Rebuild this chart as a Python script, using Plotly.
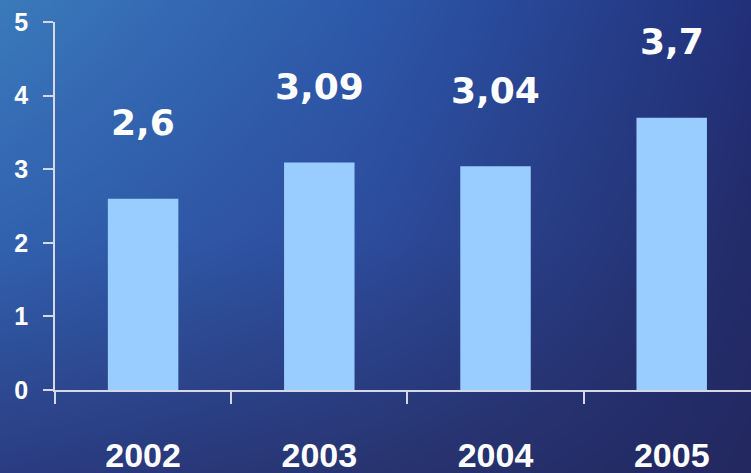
import base64
import struct
import zlib

import numpy as np
import plotly.graph_objects as go

# ---- data ----
years = ["2002", "2003", "2004", "2005"]
values = [2.6, 3.09, 3.04, 3.7]
value_labels = ["2,6", "3,09", "3,04", "3,7"]
y_ticks = [0, 1, 2, 3, 4, 5]

W, H = 751, 473
ML, MR, MT, MB = 55, 0, 22, 83


# ---- background gradient (water-like blue) as an embedded PNG ----
def hex_rgb(h):
    h = h.lstrip("#")
    return [int(h[i:i + 2], 16) for i in (0, 2, 4)]


grid = np.array([
    [hex_rgb("#3b7abb"), hex_rgb("#2d58aa"), hex_rgb("#22307a")],
    [hex_rgb("#3263b0"), hex_rgb("#2d4c9c"), hex_rgb("#232c6a")],
    [hex_rgb("#2b3c82"), hex_rgb("#283470"), hex_rgb("#232860")],
], dtype=float)
gx = np.array([0.0, 0.5, 1.0])
gy = np.array([0.0, 0.5, 1.0])
xs = np.linspace(0, 1, W)
ys = np.linspace(0, 1, H)
rows = np.empty((3, W, 3))
for r in range(3):
    for c in range(3):
        rows[r, :, c] = np.interp(xs, gx, grid[r, :, c])
img = np.empty((H, W, 3))
for c in range(3):
    for i in range(W):
        img[:, i, c] = np.interp(ys, gy, rows[:, i, c])
img = np.clip(img, 0, 255).astype(np.uint8)


def png_bytes(arr):
    h, w, _ = arr.shape
    raw = b"".join(b"\x00" + arr[r].tobytes() for r in range(h))

    def chunk(tag, data):
        c = struct.pack(">I", len(data)) + tag + data
        return c + struct.pack(">I", zlib.crc32(tag + data) & 0xFFFFFFFF)

    return (b"\x89PNG\r\n\x1a\n"
            + chunk(b"IHDR", struct.pack(">IIBBBBB", w, h, 8, 2, 0, 0, 0))
            + chunk(b"IDAT", zlib.compress(raw, 9))
            + chunk(b"IEND", b""))


bg_uri = "data:image/png;base64," + base64.b64encode(png_bytes(img)).decode()

pw = W - ML - MR
ph = H - MT - MB

fig = go.Figure()
fig.add_trace(go.Bar(
    x=years, y=values,
    marker=dict(color="#99ccff", line=dict(width=0)),
    hoverinfo="skip",
))

for i, (v, lab) in enumerate(zip(values, value_labels)):
    fig.add_annotation(
        x=i, y=v, xref="x", yref="y", text=lab, showarrow=False,
        yanchor="middle", xanchor="center", yshift=76,
        font=dict(family="DejaVu Sans", size=36, color="white", weight="bold"),
    )

fig.add_layout_image(dict(
    source=bg_uri, xref="paper", yref="paper",
    x=-ML / pw, y=1 + MT / ph, sizex=W / pw, sizey=H / ph,
    xanchor="left", yanchor="top", sizing="stretch", layer="below",
))

axis_col = "#d6d8e8"
fig.update_layout(
    width=W, height=H,
    margin=dict(l=ML, r=MR, t=MT, b=MB),
    paper_bgcolor="#2a3f85",
    plot_bgcolor="rgba(0,0,0,0)",
    showlegend=False,
    bargap=0.6,
    xaxis=dict(
        type="category", range=[-0.5, 3.45],
        tickson="boundaries", ticks="outside", ticklen=12, tickwidth=1.5,
        tickcolor=axis_col, showline=True, linecolor=axis_col, linewidth=1.5,
        showgrid=False, zeroline=False,
        tickfont=dict(family="Liberation Sans", size=34, color="white",
                      weight="bold"),
        ticklabelstandoff=34,
    ),
    yaxis=dict(
        range=[0, 5], tickvals=y_ticks, ticks="outside", ticklen=10,
        tickwidth=1.5, tickcolor=axis_col, showline=True, linecolor=axis_col,
        linewidth=1.5, showgrid=False, zeroline=False,
        tickfont=dict(family="Liberation Sans", size=25, color="white",
                      weight="bold"),
        ticklabelstandoff=10,
    ),
)

fig.write_html("out.html")
